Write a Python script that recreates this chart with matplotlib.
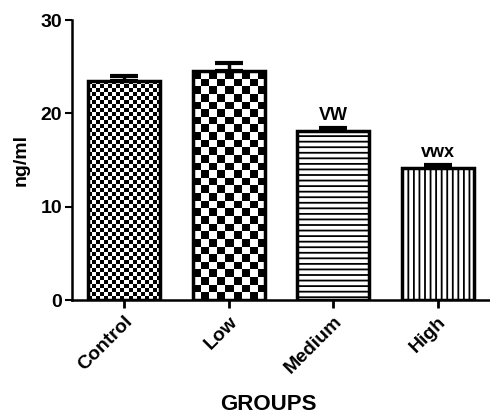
import matplotlib.pyplot as plt
import numpy as np

# data
groups = ["Control", "Low", "Medium", "High"]
means = [23.5, 24.5, 18.1, 14.1]
sems = [0.5, 0.9, 0.35, 0.35]
marks = ["", "", "VW", "vwx"]

plt.rcParams['font.family'] = ['Liberation Sans', 'DejaVu Sans']
plt.rcParams['font.weight'] = 'bold'
plt.rcParams['hatch.linewidth'] = 1.3

fig = plt.figure(figsize=(4.9, 4.18), dpi=100)
ax = fig.add_axes([0.147, 0.282, 0.853, 0.67])

x = np.arange(len(groups))
bars = ax.bar(x, means, width=0.69, color="white", edgecolor="black",
              linewidth=2.5, zorder=2)
ax.errorbar(x, means, yerr=[np.zeros(len(sems)), sems], fmt="none",
            ecolor="black", elinewidth=2.5, capsize=10, capthick=3, zorder=1)


# checkerboard fill clipped to a bar
def checker(bar, nx, ny):
    bx, bw, bh = bar.get_x(), bar.get_width(), bar.get_height()
    bar.set_facecolor("none")
    img = (np.add.outer(np.arange(ny), np.arange(nx)) % 2).astype(float)
    im = ax.imshow(img, cmap="gray", extent=[bx, bx + bw, 0, bh],
                   aspect="auto", interpolation="nearest", zorder=1.5)
    im.set_clip_path(bar)


checker(bars[0], 18, 55)
checker(bars[1], 9, 30)
bars[2].set_hatch("---")
bars[3].set_hatch("|||")

for xi, m, s, t in zip(x, means, sems, marks):
    if t:
        ax.text(xi, m + s + 0.4, t, ha="center", va="bottom",
                fontsize=13, fontweight="bold")

ax.set_xlim(-0.5, 3.5)
ax.set_ylim(0, 30)
ax.set_yticks([0, 10, 20, 30])
ax.set_xticks(x)
ax.set_xticklabels(groups, rotation=45, ha="right", rotation_mode="anchor",
                   fontsize=14, fontweight="bold")
ax.tick_params(axis="y", labelsize=14, width=1.5, length=5, pad=2)
ax.tick_params(axis="x", width=2, length=6)
for lab in ax.get_yticklabels():
    lab.set_fontweight("bold")
ax.spines["top"].set_visible(False)
ax.spines["right"].set_visible(False)
ax.spines["left"].set_linewidth(1.8)
ax.spines["bottom"].set_linewidth(1.8)
ax.set_ylabel("ng/ml", fontsize=14, fontweight="bold", labelpad=8)
ax.set_xlabel("GROUPS", fontsize=16, fontweight="bold")
ax.xaxis.set_label_coords(0.47, -0.335)

fig.savefig("out.png", dpi=100)
